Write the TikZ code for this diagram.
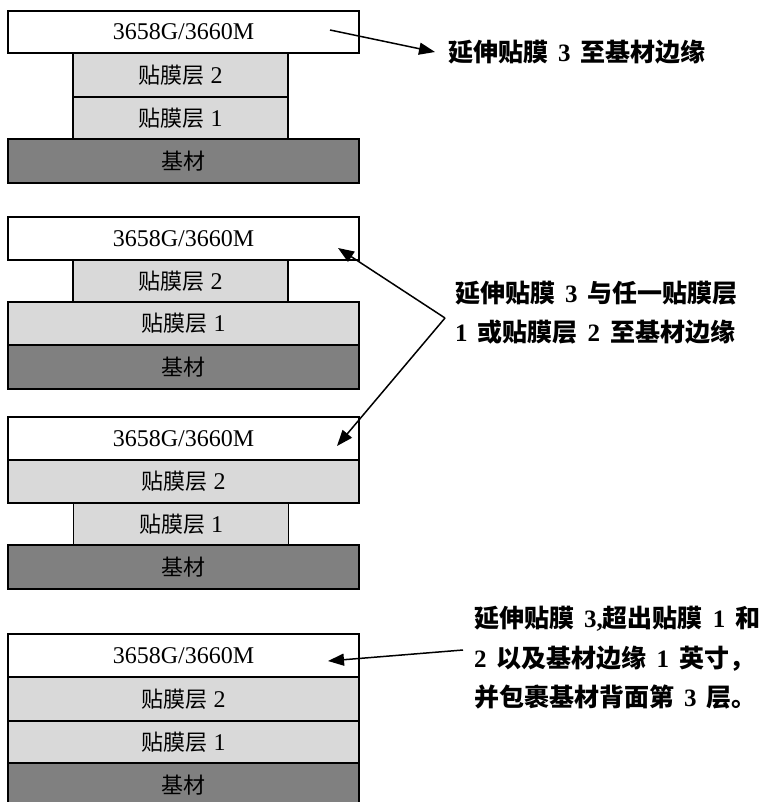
\documentclass[tikz,border=0pt]{standalone}
\usepackage{fontspec}
\setmainfont{Liberation Serif}
\newfontfamily\cjk{Noto Sans CJK SC}
\usetikzlibrary{arrows.meta}
\definecolor{lightfill}{RGB}{217,217,217}
\definecolor{darkfill}{RGB}{128,128,128}
\newcommand\zh[1]{{\cjk\fontsize{22}{28}\selectfont #1}}
\newcommand\zb[1]{{\cjk\bfseries\fontsize{25}{30}\selectfont #1}}
\newcommand\gap{\hspace{10pt}}
\begin{document}
\begin{tikzpicture}[x=1pt,y=-1pt,
  layer/.style={draw=black, line width=1.5pt, inner sep=0pt, font=\fontsize{24}{28}\selectfont},
  film/.style={layer, fill=white},
  glue/.style={layer, fill=lightfill},
  sub/.style={layer, fill=darkfill},
  wide/.style={minimum width=351pt},
  narrow/.style={minimum width=215pt},
  callout/.style={anchor=base west, inner sep=0pt, font=\bfseries\fontsize{25}{30}\selectfont},
  arr/.style={line width=1.5pt, -{Triangle[length=16pt,width=12pt]}}]
\useasboundingbox (0,0) rectangle (773,802);

% ---- diagram 1
\node[sub, wide, minimum height=44pt] (d1b) at (183.5,161) {\zh{基材}};
\node[glue, narrow, minimum height=42pt] (d1l1) at (180.5,118) {\zh{贴膜层} 1};
\node[glue, narrow, minimum height=44pt] (d1l2) at (180.5,75) {\zh{贴膜层} 2};
\node[film, wide, minimum height=42pt] (d1t) at (183.5,32) {3658G/3660M};

% ---- diagram 2
\node[sub, wide, minimum height=44pt] (d2b) at (183.5,367) {\zh{基材}};
\node[glue, wide, minimum height=43pt] (d2l1) at (183.5,323.5) {\zh{贴膜层} 1};
\node[glue, narrow, minimum height=42pt] (d2l2) at (180.5,281) {\zh{贴膜层} 2};
\node[film, wide, minimum height=43pt] (d2t) at (183.5,238.5) {3658G/3660M};

% ---- diagram 3
\node[sub, wide, minimum height=44pt] (d3b) at (183.5,567) {\zh{基材}};
\node[glue, narrow, minimum height=42pt] (d3l1) at (181,524) {\zh{贴膜层} 1};
\node[glue, wide, minimum height=43pt] (d3l2) at (183.5,481.5) {\zh{贴膜层} 2};
\node[film, wide, minimum height=43pt] (d3t) at (183.5,438.5) {3658G/3660M};

% ---- diagram 4
\node[sub, wide, minimum height=45pt] (d4b) at (183.5,785.5) {\zh{基材}};
\node[glue, wide, minimum height=42pt] (d4l1) at (183.5,742) {\zh{贴膜层} 1};
\node[glue, wide, minimum height=44pt] (d4l2) at (183.5,699) {\zh{贴膜层} 2};
\node[film, wide, minimum height=43pt] (d4t) at (183.5,655.5) {3658G/3660M};

% ---- callout texts
\node[callout] (t1) at (448,62) {\zb{延伸贴膜}\gap 3\gap\zb{至基材边缘}};
\node[callout] (t2a) at (455,302) {\zb{延伸贴膜}\gap 3\gap\zb{与任一贴膜层}};
\node[callout] (t2b) at (455,341) {1\gap\zb{或贴膜层}\gap 2\gap\zb{至基材边缘}};
\node[callout] (t3a) at (474,627) {\zb{延伸贴膜}\gap 3,\zb{超出贴膜}\gap 1\gap\zb{和}};
\node[callout] (t3b) at (474,667) {2\gap\zb{以及基材边缘}\gap 1\gap\zb{英寸，}};
\node[callout] (t3c) at (474,706) {\zb{并包裹基材背面第}\gap 3\gap\zb{层。}};

% ---- arrows
\coordinate (a1s) at (330,30);
\coordinate (a1e) at (435,52);
\draw[arr] (a1s) -- (a1e);

\coordinate (a2v) at (445,318);
\coordinate (a2u) at (338,248);
\coordinate (a2d) at (337,446);
\draw[arr] (a2v) -- (a2u);
\draw[arr] (a2v) -- (a2d);

\coordinate (a4s) at (463,650);
\coordinate (a4e) at (328,661);
\draw[arr] (a4s) -- (a4e);
\end{tikzpicture}
\end{document}
